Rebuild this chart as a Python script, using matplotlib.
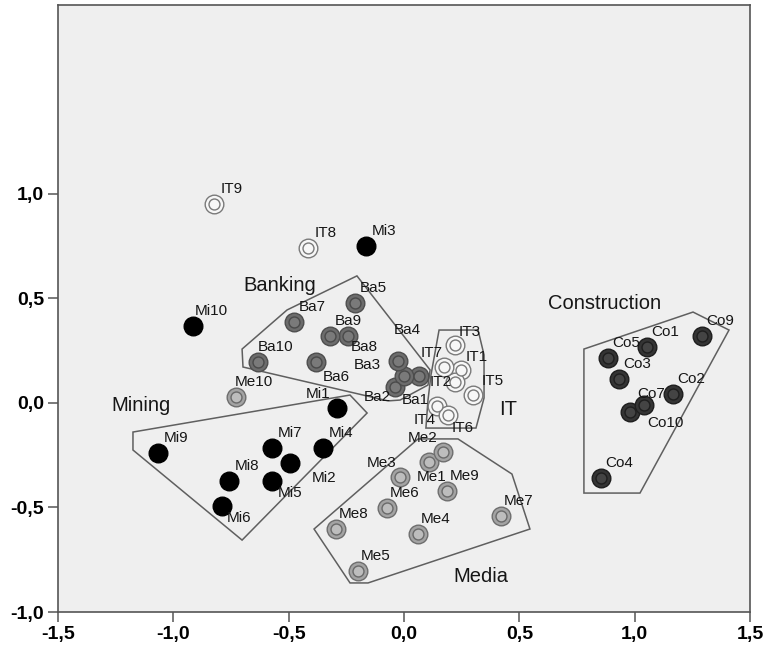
import matplotlib.pyplot as plt
from matplotlib.ticker import FuncFormatter

plt.rcParams['font.family'] = ['Liberation Sans', 'DejaVu Sans']

# point coordinates per sector
it_names = ['IT1', 'IT2', 'IT3', 'IT4', 'IT5', 'IT6', 'IT7', 'IT8', 'IT9']
it_x = [0.247, 0.221, 0.221, 0.143, 0.299, 0.191, 0.173, -0.416, -0.824]
it_y = [0.158, 0.100, 0.278, -0.014, 0.038, -0.057, 0.172, 0.742, 0.952]

ba_names = ['Ba1', 'Ba2', 'Ba3', 'Ba4', 'Ba5', 'Ba6', 'Ba7', 'Ba8', 'Ba9', 'Ba10']
ba_x = [0.065, -0.039, 0.0, -0.026, -0.212, -0.381, -0.477, -0.243, -0.321, -0.633]
ba_y = [0.129, 0.077, 0.129, 0.201, 0.478, 0.196, 0.388, 0.321, 0.321, 0.196]

mi_names = ['Mi1', 'Mi2', 'Mi3', 'Mi4', 'Mi5', 'Mi6', 'Mi7', 'Mi8', 'Mi9', 'Mi10']
mi_x = [-0.290, -0.494, -0.165, -0.351, -0.572, -0.789, -0.572, -0.759, -1.066, -0.915]
mi_y = [-0.024, -0.287, 0.751, -0.215, -0.373, -0.493, -0.215, -0.373, -0.239, 0.368]

me_names = ['Me1', 'Me2', 'Me3', 'Me4', 'Me5', 'Me6', 'Me7', 'Me8', 'Me9', 'Me10']
me_x = [0.108, 0.169, -0.017, 0.061, -0.199, -0.074, 0.420, -0.295, 0.186, -0.728]
me_y = [-0.282, -0.234, -0.354, -0.627, -0.804, -0.502, -0.541, -0.603, -0.421, 0.029]

co_names = ['Co1', 'Co2', 'Co3', 'Co4', 'Co5', 'Co7', 'Co9', 'Co10']
co_x = [1.053, 1.166, 0.932, 0.854, 0.884, 0.980, 1.292, 1.040]
co_y = [0.268, 0.043, 0.115, -0.359, 0.215, -0.043, 0.321, -0.010]

# hand drawn cluster outlines
ba_hull = [(-0.204, 0.608), (0.113, 0.158), (0.104, 0.086), (-0.017, 0.014),
           (-0.069, 0.010), (-0.698, 0.172), (-0.702, 0.258), (-0.507, 0.445)]
mi_hull = [(-1.175, -0.139), (-0.234, 0.038), (-0.160, -0.048),
           (-0.702, -0.656), (-1.175, -0.225)]
me_hull = [(-0.390, -0.603), (-0.234, -0.861), (-0.156, -0.861), (0.546, -0.603),
           (0.468, -0.340), (0.234, -0.172), (0.061, -0.172)]
co_hull = [(0.780, 0.258), (1.253, 0.435), (1.409, 0.349), (1.023, -0.431), (0.780, -0.431)]
it_hull = [(0.152, 0.349), (0.321, 0.349), (0.347, 0.230), (0.347, 0.024),
           (0.312, -0.120), (0.095, -0.120), (0.104, 0.014), (0.117, 0.134)]

groups = ['Banking', 'Mining', 'Media', 'Construction', 'IT']
group_x = [-0.538, -1.140, 0.334, 0.871, 0.451]
group_y = [0.560, -0.014, -0.828, 0.478, -0.033]

# label offsets in pixels where SPSS moved the label off the default spot
default_off = (18, -15)
label_off = {
    'Ba8': (16, 11), 'Ba6': (20, 15), 'Ba4': (9, -31), 'Ba3': (-37, -11),
    'Ba2': (-18, 10), 'Ba1': (-4, 24), 'Mi1': (-19, -14),
    'IT3': (15, -13), 'IT7': (-12, -14), 'IT1': (16, -13), 'IT2': (-14, 0),
    'IT5': (20, -14), 'IT4': (-12, 14), 'IT6': (15, 13),
    'Mi2': (34, 15), 'Mi5': (18, 12), 'Mi6': (17, 12),
    'Me2': (-20, -14), 'Me1': (3, 15), 'Me3': (-18, -14),
    'Co7': (21, -18), 'Co10': (22, 18),
}


def draw_group(ax, names, xs, ys, outer, edge, inner, inner_edge):
    ax.scatter(xs, ys, s=180, c=outer, edgecolors=edge, linewidths=1.0, zorder=3)
    if inner is not None:
        ax.scatter(xs, ys, s=62, c=inner, edgecolors=inner_edge, linewidths=1.0, zorder=4)
    for n, x, y in zip(names, xs, ys):
        dx, dy = label_off.get(n, default_off)
        ax.annotate(n, (x, y), xytext=(dx, -dy), textcoords='offset pixels',
                    ha='center', va='center', fontsize=11, color='#161616', zorder=5)


fig = plt.figure(figsize=(7.68, 6.49), dpi=100)
ax = fig.add_axes([58 / 768, 37 / 649, 692 / 768, 607 / 649])
ax.set_facecolor('#efefef')

for hull in [ba_hull, mi_hull, me_hull, co_hull, it_hull]:
    ax.add_patch(plt.Polygon(hull, closed=True, fill=False, edgecolor='#5f5f5f',
                             linewidth=1.1, zorder=2))

draw_group(ax, it_names, it_x, it_y, '#f7f7f7', '#7a7a7a', '#f7f7f7', '#7a7a7a')
draw_group(ax, ba_names, ba_x, ba_y, '#6c6c6c', '#4e4e4e', '#7a7a7a', '#4a4a4a')
draw_group(ax, mi_names, mi_x, mi_y, '#000000', '#000000', None, None)
draw_group(ax, me_names, me_x, me_y, '#a3a3a3', '#6e6e6e', '#bdbdbd', '#6a6a6a')
draw_group(ax, co_names, co_x, co_y, '#343434', '#1e1e1e', '#444444', '#1e1e1e')

for g, x, y in zip(groups, group_x, group_y):
    ax.text(x, y, g, ha='center', va='center', fontsize=14.5, color='#161616')

ax.set_xlim(-1.5, 1.5)
ax.set_ylim(-1.0, 1.904)
ax.set_xticks([-1.5, -1.0, -0.5, 0.0, 0.5, 1.0, 1.5])
ax.set_yticks([-1.0, -0.5, 0.0, 0.5, 1.0])
fmt = FuncFormatter(lambda v, p: f'{v:.1f}'.replace('.', ','))
ax.xaxis.set_major_formatter(fmt)
ax.yaxis.set_major_formatter(fmt)
ax.tick_params(length=7, width=1.1, color='#555555', labelsize=14, pad=3)
for lab in ax.get_xticklabels() + ax.get_yticklabels():
    lab.set_fontweight('bold')
for sp in ax.spines.values():
    sp.set_color('#555555')
    sp.set_linewidth(1.2)

fig.savefig('out.png', dpi=100)
